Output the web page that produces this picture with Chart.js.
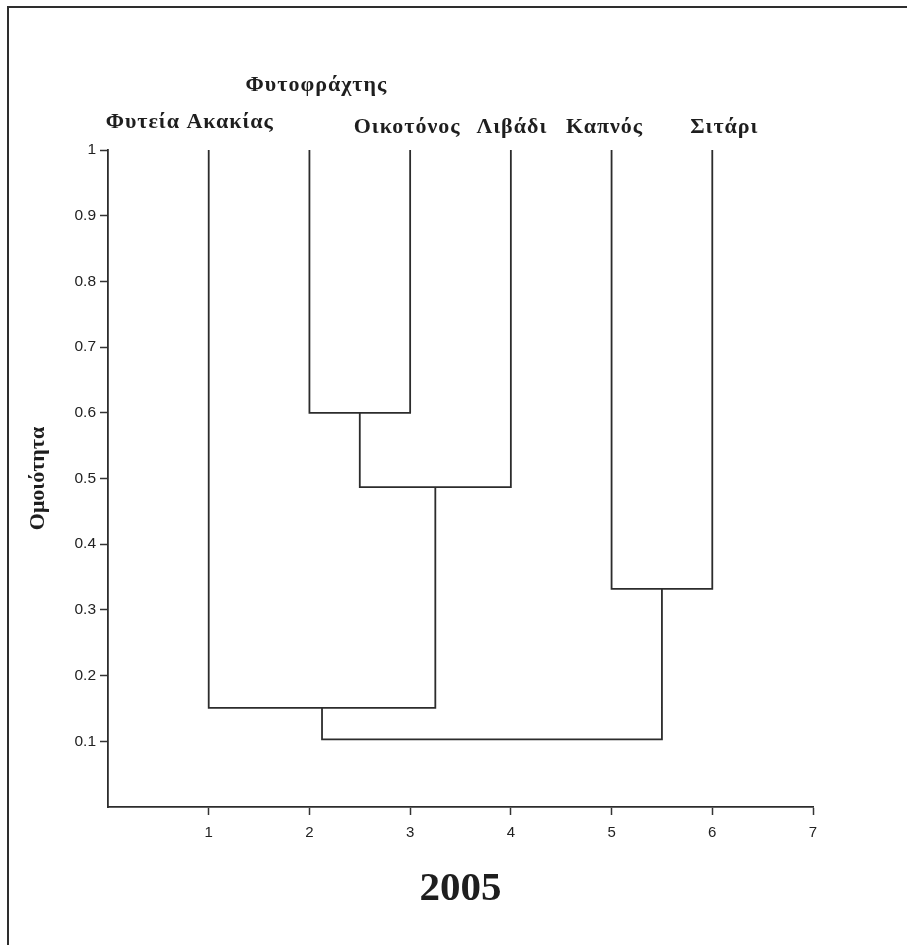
<!DOCTYPE html>
<html><head><meta charset="utf-8">
<script src="https://cdn.jsdelivr.net/npm/chart.js@4/dist/chart.umd.min.js"></script>
<style>
html,body{margin:0;padding:0;background:#fff;overflow:hidden;width:907px;height:945px;}
#wrap{position:relative;width:907px;height:945px;}
#frame{position:absolute;left:7px;top:6px;width:930px;height:970px;border-top:2px solid #2e2e2e;border-left:2px solid #2e2e2e;pointer-events:none;}
canvas{position:absolute;left:0;top:0;}
</style></head><body>
<div id="wrap"><canvas id="c" width="907" height="945"></canvas><div id="frame"></div></div>
<script>
// ---- data ----
const leafNames = ['Φυτεία Ακακίας', 'Φυτοφράχτης', 'Οικοτόνος', 'Λιβάδι', 'Καπνός', 'Σιτάρι'];
const leafPositions = [1, 2, 3, 4, 5, 6];
const leafHeight = 1;
// merges: node ids 0-5 are leaves, each merge creates a new node id (6, 7, ...)
const mergeFirst  = [1, 6, 4, 0, 9];
const mergeSecond = [2, 3, 5, 7, 8];
const mergeHeights = [0.600, 0.487, 0.332, 0.151, 0.103];
const xTickValues = [1, 2, 3, 4, 5, 6, 7];
const yTickValues = [0.1, 0.2, 0.3, 0.4, 0.5, 0.6, 0.7, 0.8, 0.9, 1];
const yAxisTitle = 'Ομοιότητα';
const chartTitle = '2005';

// ---- build link datasets from the tree ----
const nodeX = leafPositions.slice();
const nodeY = leafPositions.map(() => leafHeight);
const datasets = [];
mergeHeights.forEach((h, i) => {
  const a = mergeFirst[i], b = mergeSecond[i];
  datasets.push({
    data: [
      {x: nodeX[a], y: nodeY[a]},
      {x: nodeX[a], y: h},
      {x: nodeX[b], y: h},
      {x: nodeX[b], y: nodeY[b]}
    ],
    showLine: true, borderColor: '#2c2c2c', borderWidth: 1.8, pointRadius: 0,
    fill: false, tension: 0
  });
  nodeX.push((nodeX[a] + nodeX[b]) / 2);
  nodeY.push(h);
});

const leafLabelPlugin = {
  id: 'leafLabels',
  afterDatasetsDraw(chart, args, opts) {
    const {ctx} = chart;
    const xs = chart.scales.x, ys = chart.scales.y;
    ctx.save();
    ctx.font = opts.font;
    ctx.fillStyle = opts.color;
    ctx.textAlign = 'center';
    ctx.textBaseline = 'middle';
    if ('letterSpacing' in ctx) ctx.letterSpacing = opts.letterSpacing;
    leafNames.forEach((name, i) => {
      const px = xs.getPixelForValue(leafPositions[i]) + opts.dx[i];
      const py = ys.getPixelForValue(leafHeight) + opts.dy[i];
      ctx.fillText(name, px, py);
    });
    ctx.restore();
  }
};

const tickColorFn = c => (c.tick && c.tick.value === 0) ? 'rgba(0,0,0,0)' : '#333';

new Chart(document.getElementById('c'), {
  type: 'scatter',
  data: {datasets},
  plugins: [leafLabelPlugin],
  options: {
    responsive: false,
    animation: false,
    devicePixelRatio: 1,
    layout: {padding: {top: 150, right: 94, left: 0, bottom: 0}},
    plugins: {
      legend: {display: false},
      tooltip: {enabled: false},
      leafLabels: {
        font: 'bold 22px "Liberation Serif", "DejaVu Serif", serif',
        letterSpacing: '1px',
        color: '#1e1e1e',
        dx: [-19, 7, -3, 1, -7, 12],
        dy: [-28, -65, -23, -23, -23, -23]
      }
    },
    scales: {
      x: {
        type: 'linear', min: 0, max: 7,
        afterFit: s => { s.height = 138; },
        afterBuildTicks: s => { s.ticks = [0, ...xTickValues].map(v => ({value: v})); },
        ticks: {
          callback: v => v === 0 ? '' : String(v),
          color: '#222', padding: 9, maxRotation: 0, autoSkip: false,
          font: {family: '"Liberation Sans", Arial, sans-serif', size: 15}
        },
        grid: {drawOnChartArea: false, drawTicks: true, tickLength: 8, tickColor: tickColorFn, tickWidth: 1.5},
        border: {display: true, color: '#2c2c2c', width: 1.8},
        title: {
          display: true, text: chartTitle, color: '#1e1e1e',
          font: {family: '"Liberation Serif", "DejaVu Serif", serif', size: 41, weight: 'bold', lineHeight: 1.2},
          padding: {top: 0, bottom: 31}
        }
      },
      y: {
        type: 'linear', min: 0, max: 1,
        afterFit: s => { s.width = 108; },
        afterBuildTicks: s => { s.ticks = [0, ...yTickValues].map(v => ({value: v})); },
        ticks: {
          callback: v => v === 0 ? '' : String(v),
          color: '#222', padding: 4, autoSkip: false,
          font: {family: '"Liberation Sans", Arial, sans-serif', size: 15.5}
        },
        grid: {drawOnChartArea: false, drawTicks: true, tickLength: 8, tickColor: tickColorFn, tickWidth: 1.5},
        border: {display: true, color: '#2c2c2c', width: 1.8},
        title: {
          display: true, text: yAxisTitle, color: '#1e1e1e',
          font: {family: '"Liberation Serif", "DejaVu Serif", serif', size: 22, weight: 'bold', lineHeight: 1.2},
          padding: {top: 25, bottom: 0}
        }
      }
    }
  }
});
</script>
</body></html>
